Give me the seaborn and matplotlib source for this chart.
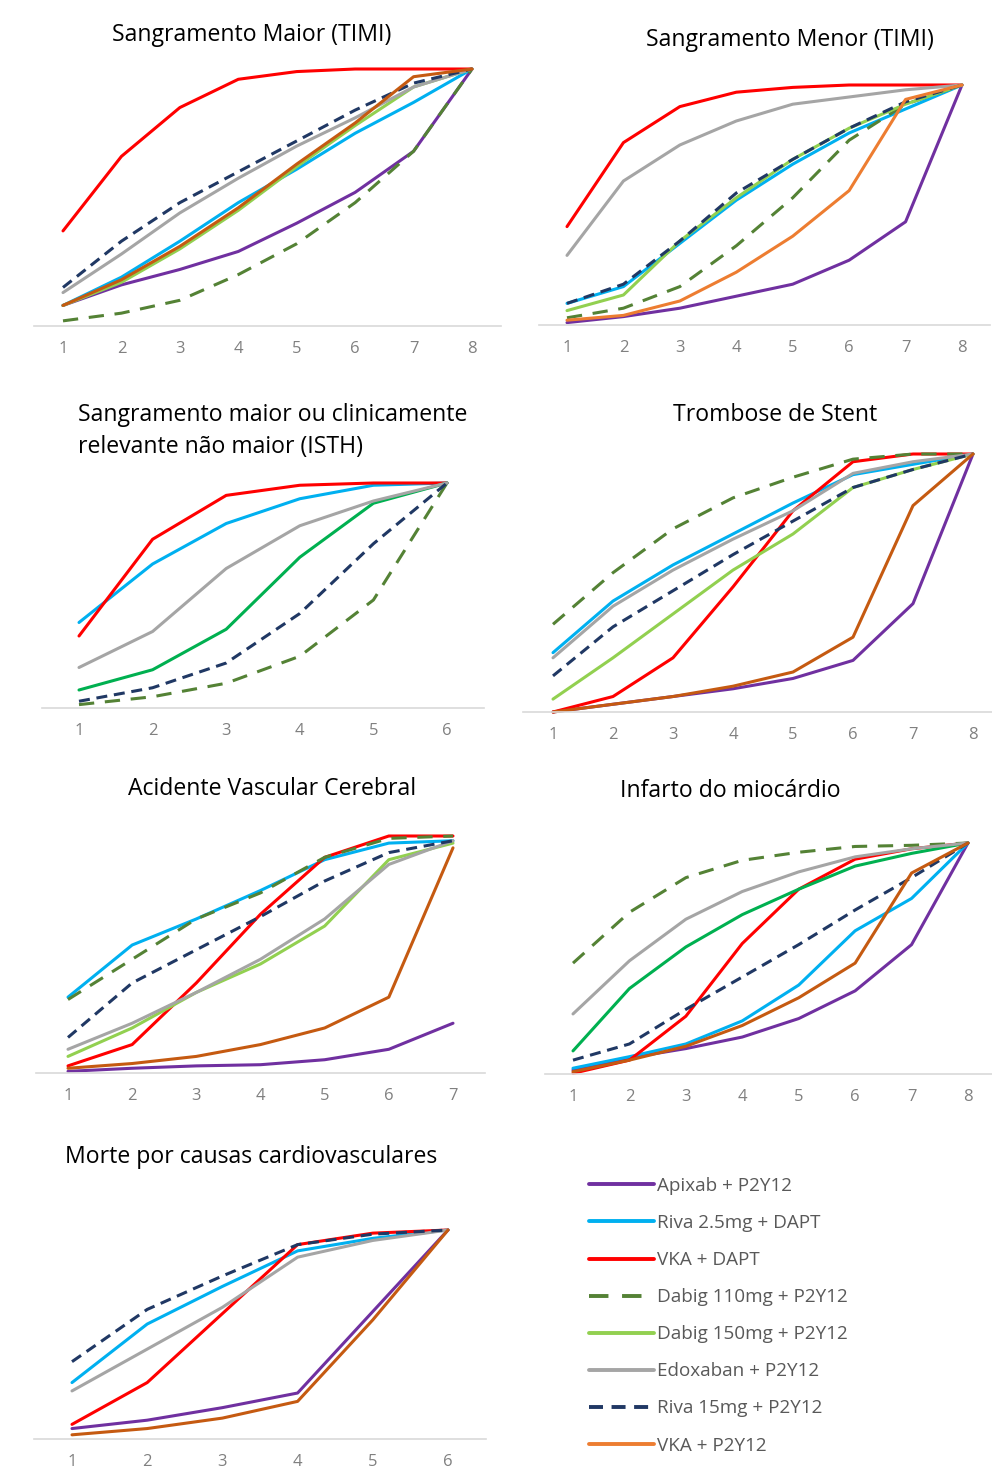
import numpy as np
import pandas as pd
import seaborn as sns
from matplotlib import pyplot as plt
from matplotlib.lines import Line2D

tratamentos = ["Apixab + P2Y12", "Riva 2.5mg + DAPT", "VKA + DAPT", "Dabig 110mg + P2Y12",
               "Dabig 150mg + P2Y12", "Edoxaban + P2Y12", "Riva 15mg + P2Y12", "VKA + P2Y12"]

cores = {"Apixab + P2Y12": "#7030A0", "Riva 2.5mg + DAPT": "#00B0F0", "VKA + DAPT": "#FF0000",
         "Dabig 110mg + P2Y12": "#548235", "Dabig 150mg + P2Y12": "#92D050",
         "Edoxaban + P2Y12": "#A5A5A5", "Riva 15mg + P2Y12": "#203864", "VKA + P2Y12": "#ED7D31"}

tracos = {t: "" for t in tratamentos}
tracos["Dabig 110mg + P2Y12"] = (5, 3.5)
tracos["Riva 15mg + P2Y12"] = (3.6, 2.2)

# curvas de ranking acumulado (SUCRA)
maior_timi = {
    "Apixab + P2Y12": [0.08, 0.16, 0.22, 0.29, 0.40, 0.52, 0.68, 1.0],
    "Riva 2.5mg + DAPT": [0.08, 0.19, 0.33, 0.48, 0.61, 0.75, 0.87, 1.0],
    "VKA + DAPT": [0.37, 0.66, 0.85, 0.96, 0.99, 1.0, 1.0, 1.0],
    "Dabig 110mg + P2Y12": [0.02, 0.05, 0.10, 0.20, 0.32, 0.48, 0.68, 1.0],
    "Dabig 150mg + P2Y12": [0.08, 0.17, 0.30, 0.45, 0.62, 0.78, 0.93, 1.0],
    "Edoxaban + P2Y12": [0.13, 0.28, 0.44, 0.575, 0.70, 0.81, 0.93, 1.0],
    "Riva 15mg + P2Y12": [0.15, 0.33, 0.48, 0.60, 0.72, 0.84, 0.945, 1.0],
    "VKA + P2Y12": [0.08, 0.18, 0.31, 0.46, 0.63, 0.79, 0.97, 1.0],
}
menor_timi = {
    "Apixab + P2Y12": [0.01, 0.035, 0.07, 0.12, 0.17, 0.27, 0.43, 1.0],
    "Riva 2.5mg + DAPT": [0.09, 0.16, 0.34, 0.52, 0.67, 0.80, 0.90, 1.0],
    "VKA + DAPT": [0.41, 0.76, 0.91, 0.97, 0.99, 1.0, 1.0, 1.0],
    "Dabig 110mg + P2Y12": [0.03, 0.07, 0.16, 0.33, 0.53, 0.77, 0.92, 1.0],
    "Dabig 150mg + P2Y12": [0.06, 0.125, 0.35, 0.53, 0.69, 0.82, 0.92, 1.0],
    "Edoxaban + P2Y12": [0.29, 0.60, 0.75, 0.85, 0.92, 0.95, 0.98, 1.0],
    "Riva 15mg + P2Y12": [0.09, 0.17, 0.35, 0.55, 0.69, 0.82, 0.93, 1.0],
    "VKA + P2Y12": [0.02, 0.04, 0.10, 0.22, 0.37, 0.56, 0.94, 1.0],
}
isth = {
    "Riva 2.5mg + DAPT": [0.38, 0.64, 0.82, 0.93, 0.99, 1.0],
    "VKA + DAPT": [0.32, 0.75, 0.945, 0.99, 1.0, 1.0],
    "Dabig 110mg + P2Y12": [0.015, 0.05, 0.11, 0.23, 0.48, 1.0],
    "Dabig 150mg + P2Y12": [0.08, 0.17, 0.35, 0.67, 0.91, 1.0],
    "Edoxaban + P2Y12": [0.18, 0.34, 0.62, 0.81, 0.92, 1.0],
    "Riva 15mg + P2Y12": [0.03, 0.09, 0.20, 0.42, 0.73, 1.0],
}
trombose = {
    "Apixab + P2Y12": [0.0, 0.03, 0.06, 0.09, 0.13, 0.20, 0.42, 1.0],
    "Riva 2.5mg + DAPT": [0.23, 0.43, 0.57, 0.69, 0.81, 0.92, 0.96, 1.0],
    "VKA + DAPT": [0.0, 0.06, 0.21, 0.485, 0.78, 0.97, 1.0, 1.0],
    "Dabig 110mg + P2Y12": [0.34, 0.54, 0.71, 0.83, 0.91, 0.98, 1.0, 1.0],
    "Dabig 150mg + P2Y12": [0.05, 0.21, 0.38, 0.55, 0.69, 0.87, 0.94, 1.0],
    "Edoxaban + P2Y12": [0.21, 0.41, 0.55, 0.67, 0.78, 0.925, 0.97, 1.0],
    "Riva 15mg + P2Y12": [0.14, 0.33, 0.47, 0.61, 0.74, 0.87, 0.94, 1.0],
    "VKA + P2Y12": [0.0, 0.03, 0.06, 0.10, 0.155, 0.29, 0.80, 1.0],
}
avc = {
    "Apixab + P2Y12": [0.007, 0.02, 0.03, 0.035, 0.056, 0.10, 0.21],
    "Riva 2.5mg + DAPT": [0.32, 0.54, 0.65, 0.77, 0.90, 0.97, 0.98],
    "VKA + DAPT": [0.03, 0.12, 0.38, 0.67, 0.91, 1.0, 1.0],
    "Dabig 110mg + P2Y12": [0.31, 0.48, 0.65, 0.76, 0.91, 0.99, 1.0],
    "Dabig 150mg + P2Y12": [0.07, 0.19, 0.34, 0.46, 0.62, 0.90, 0.97],
    "Edoxaban + P2Y12": [0.10, 0.21, 0.34, 0.48, 0.65, 0.88, 0.98],
    "Riva 15mg + P2Y12": [0.15, 0.38, 0.52, 0.66, 0.81, 0.93, 0.98],
    "VKA + P2Y12": [0.02, 0.04, 0.07, 0.12, 0.19, 0.32, 0.95],
}
infarto = {
    "Apixab + P2Y12": [0.017, 0.07, 0.11, 0.16, 0.24, 0.36, 0.56, 1.0],
    "Riva 2.5mg + DAPT": [0.025, 0.075, 0.13, 0.23, 0.385, 0.62, 0.76, 1.0],
    "VKA + DAPT": [0.003, 0.06, 0.25, 0.565, 0.80, 0.93, 0.975, 1.0],
    "Dabig 110mg + P2Y12": [0.48, 0.70, 0.85, 0.925, 0.96, 0.985, 0.99, 1.0],
    "Dabig 150mg + P2Y12": [0.10, 0.37, 0.55, 0.69, 0.80, 0.90, 0.955, 1.0],
    "Edoxaban + P2Y12": [0.26, 0.49, 0.67, 0.79, 0.875, 0.94, 0.975, 1.0],
    "Riva 15mg + P2Y12": [0.06, 0.13, 0.28, 0.42, 0.56, 0.71, 0.85, 1.0],
    "VKA + P2Y12": [0.01, 0.06, 0.12, 0.21, 0.33, 0.48, 0.87, 1.0],
}
morte_cv = {
    "Apixab + P2Y12": [0.05, 0.09, 0.15, 0.22, 0.61, 1.0],
    "Riva 2.5mg + DAPT": [0.27, 0.55, 0.73, 0.90, 0.96, 1.0],
    "VKA + DAPT": [0.07, 0.27, 0.60, 0.93, 0.985, 1.0],
    "Edoxaban + P2Y12": [0.23, 0.43, 0.63, 0.87, 0.95, 1.0],
    "Riva 15mg + P2Y12": [0.37, 0.62, 0.78, 0.93, 0.98, 1.0],
    "VKA + P2Y12": [0.02, 0.05, 0.10, 0.18, 0.57, 1.0],
}

W, H = 992, 1472
sns.set_style("white")
plt.rcParams["font.family"] = ["Open Sans", "DejaVu Sans"]
fig = plt.figure(figsize=(W / 100, H / 100), dpi=100)

# (dados, x do 1o ponto, x do ultimo, linha base, topo=1, cores alteradas)
paineis = [
    (maior_timi, 63, 472, 326, 69, {"VKA + P2Y12": "#C55A11"}),
    (menor_timi, 567, 962, 325, 85, {}),
    (isth, 79, 447, 708, 483, {"Dabig 150mg + P2Y12": "#00B050"}),
    (trombose, 553, 973, 712, 454, {"VKA + P2Y12": "#C55A11"}),
    (avc, 68, 453, 1073, 836, {"VKA + P2Y12": "#C55A11"}),
    (infarto, 573, 968, 1074, 843, {"VKA + P2Y12": "#C55A11", "Dabig 150mg + P2Y12": "#00B050"}),
    (morte_cv, 72, 448, 1439, 1230, {"VKA + P2Y12": "#C55A11"}),
]

for dados, x1, xn, base, topo, extra in paineis:
    n = len(next(iter(dados.values())))
    passo = (xn - x1) / (n - 1)
    esq = x1 - passo / 2
    larg = passo * n
    ax = fig.add_axes([esq / W, 1 - base / H, larg / W, (base - topo) / H])
    linhas = []
    for t in tratamentos:
        if t in dados:
            for i, v in enumerate(dados[t]):
                linhas.append({"rank": i + 1, "prob": v, "trat": t})
    df = pd.DataFrame(linhas)
    ordem = [t for t in tratamentos if t in dados]
    pal = {t: extra.get(t, cores[t]) for t in ordem}
    sns.lineplot(data=df, x="rank", y="prob", hue="trat", style="trat", hue_order=ordem,
                 style_order=ordem, palette=pal, dashes={t: tracos[t] for t in ordem},
                 lw=2.2, legend=False, ax=ax, sort=False)
    for ln in ax.lines:
        ln.set_clip_on(False)
        ln.set_solid_joinstyle("round")
    ax.set_xlim(0.5, n + 0.5)
    ax.set_ylim(0, 1)
    ax.set_xticks(range(1, n + 1))
    ax.set_yticks([])
    ax.set_xlabel("")
    ax.set_ylabel("")
    ax.tick_params(axis="x", length=0, pad=11, labelsize=12, labelcolor="#808080")
    for s in ["top", "left", "right"]:
        ax.spines[s].set_visible(False)
    ax.spines["bottom"].set_color("#D9D9D9")
    ax.spines["bottom"].set_linewidth(1.2)

def titulo(x, y, txt, ha="center"):
    fig.text(x / W, 1 - y / H, txt, ha=ha, va="center", fontsize=16.6, color="#000000")

titulo(252, 35, "Sangramento Maior (TIMI)")
titulo(790, 40, "Sangramento Menor (TIMI)")
titulo(78, 415, "Sangramento maior ou clinicamente", ha="left")
titulo(78, 447, "relevante não maior (ISTH)", ha="left")
titulo(775, 415, "Trombose de Stent")
titulo(272, 789, "Acidente Vascular Cerebral")
titulo(730, 791, "Infarto do miocárdio")
titulo(65, 1157, "Morte por causas cardiovasculares", ha="left")

handles = []
for t in tratamentos:
    h = Line2D([], [], color=cores[t], lw=2.8)
    if tracos[t]:
        h.set_dashes(tracos[t])
    handles.append(h)
leg = fig.legend(handles, tratamentos, loc="upper left",
                 bbox_to_anchor=(589 / W, 1 - 1177 / H), frameon=False,
                 fontsize=13.6, handlelength=3.45, handletextpad=0.15,
                 labelspacing=1.01, borderpad=0, borderaxespad=0)
for tx in leg.get_texts():
    tx.set_color("#595959")

fig.savefig("out.png", dpi=100)
